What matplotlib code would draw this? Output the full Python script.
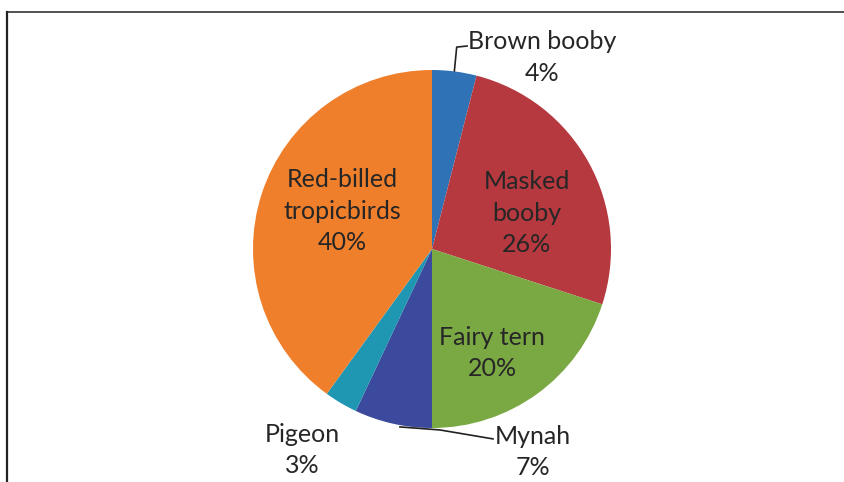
import matplotlib
matplotlib.use("Agg")
import matplotlib.pyplot as plt
from matplotlib.lines import Line2D

plt.rcParams['font.family'] = ['Lato', 'DejaVu Sans']

# bird counts, clockwise from 12 o'clock
birds = ['Brown booby', 'Masked booby', 'Fairy tern', 'Mynah', 'Pigeon', 'Red-billed tropicbirds']
shares = [4, 26, 20, 7, 3, 40]
colors = ['#2f73b6', '#b5393f', '#7aa843', '#3b4a9c', '#1f96b2', '#f07f2c']

# label text: name lines + percent
label_lines = {
    'Brown booby': 'Brown booby',
    'Masked booby': 'Masked\nbooby',
    'Fairy tern': 'Fairy tern',
    'Mynah': 'Mynah',
    'Pigeon': 'Pigeon',
    'Red-billed tropicbirds': 'Red-billed\ntropicbirds',
}
label_pos = {
    'Brown booby': (0.615, 1.07),
    'Masked booby': (0.53, 0.20),
    'Fairy tern': (0.335, -0.58),
    'Mynah': (0.565, -1.134),
    'Pigeon': (-0.726, -1.123),
    'Red-billed tropicbirds': (-0.50, 0.21),
}

fig = plt.figure(figsize=(8.45, 4.82), dpi=100)
ax = fig.add_axes([0, 0, 1, 1])

ax.pie(shares, colors=colors, startangle=90, counterclock=False,
       radius=1.0, wedgeprops=dict(linewidth=0))

for name, val in zip(birds, shares):
    x, y = label_pos[name]
    ax.text(x, y, f"{label_lines[name]}\n{val}%", ha='center', va='center',
            fontsize=18, color='#262626', linespacing=1.45)

# leader lines for the small slices
ax.plot([0.125, 0.138, 0.196], [0.995, 1.128, 1.134], color='#222222', lw=1.2)
ax.plot([-0.179, 0.045, 0.341], [-0.994, -1.011, -1.061], color='#222222', lw=1.2)

ax.set_xlim(-432 / 179, (845 - 432) / 179)
ax.set_ylim(-(482 - 249) / 179, 249 / 179)
ax.set_aspect('auto')
ax.axis('off')

# chart border (top and left edges)
fig.add_artist(Line2D([7 / 845, 1], [1 - 12 / 482, 1 - 12 / 482], color='#333333', lw=1.2))
fig.add_artist(Line2D([7 / 845, 7 / 845], [0, 1 - 12 / 482], color='#222222', lw=1.6))

fig.savefig('out.png', dpi=100, facecolor='white')
